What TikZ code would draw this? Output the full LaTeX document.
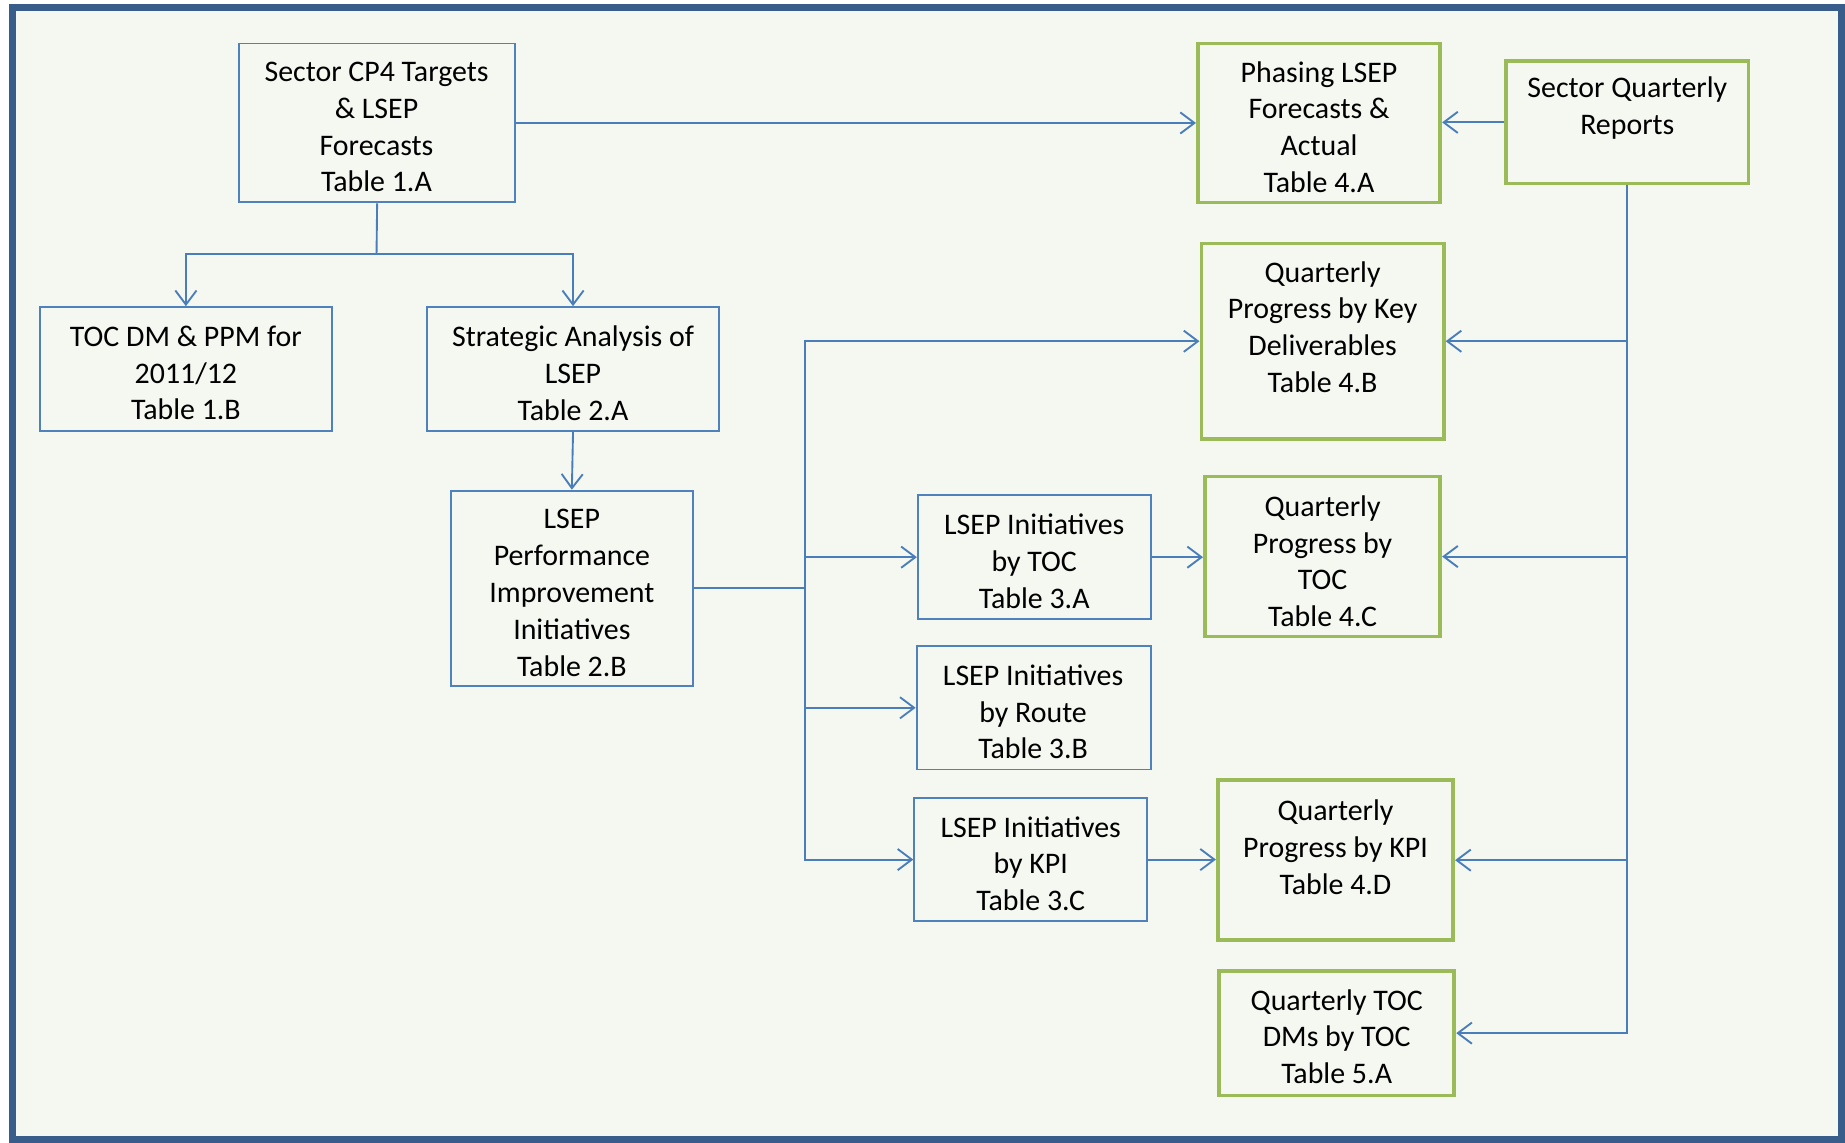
\documentclass[tikz,border=0pt]{standalone}
\usepackage{fontspec}
\setmainfont{Carlito}
\usetikzlibrary{arrows.meta,fit}
\definecolor{frameblue}{HTML}{385D8A}
\definecolor{bgfill}{HTML}{F5F8F1}
\definecolor{boxblue}{HTML}{4F81BD}
\definecolor{lineblue}{HTML}{4A7EBB}
\definecolor{boxgreen}{HTML}{9BBB59}
\tikzset{
  bluebox/.style={draw=boxblue, line width=0.8pt, inner sep=0pt},
  greenbox/.style={draw=boxgreen, line width=1.6pt, inner sep=0pt},
  lbl/.style={align=center, inner sep=0pt, font=\fontsize{12.7}{15.65}\selectfont},
  conn/.style={draw=lineblue, line width=0.8pt},
  arr/.style={conn, -{Straight Barb[length=6pt,width=9pt]}}
}
\begin{document}
\begin{tikzpicture}[x=0.5pt,y=-0.5pt]
\useasboundingbox (0,0) rectangle (1568,971);
\fill[white] (0,0) rectangle (1568,971);
\draw[frameblue, line width=3pt, fill=bgfill] (11,6.5) rectangle (1565,968);

% boxes
\node[bluebox, fit={(203,37) (438,172)}] (b1a) {};
\node[lbl] (b1at) at (320,108) {Sector CP4 Targets\\ \& LSEP\\ Forecasts\\ Table 1.A};
\node[bluebox, fit={(34,261) (282,366)}] (b1b) {};
\node[lbl] (b1bt) at (158,317) {TOC DM \& PPM for\\ 2011/12\\ Table 1.B};
\node[bluebox, fit={(363,261) (611,366)}] (b2a) {};
\node[lbl] (b2at) at (487,317) {Strategic Analysis of\\ LSEP\\ Table 2.A};
\node[bluebox, fit={(383,417) (589,583)}] (b2b) {};
\node[lbl] (b2bt) at (486,504) {LSEP\\ Performance\\ Improvement\\ Initiatives\\ Table 2.B};
\node[bluebox, fit={(780,421) (978,526)}] (b3a) {};
\node[lbl] (b3at) at (879,477) {LSEP Initiatives\\ by TOC\\ Table 3.A};
\node[bluebox, fit={(779,549) (978,654)}] (b3b) {};
\node[lbl] (b3bt) at (878,605) {LSEP Initiatives\\ by Route\\ Table 3.B};
\node[bluebox, fit={(777,678) (975,783)}] (b3c) {};
\node[lbl] (b3ct) at (876,734) {LSEP Initiatives\\ by KPI\\ Table 3.C};

\node[greenbox, fit={(1018,37) (1224,172)}] (b4a) {};
\node[lbl] (b4at) at (1121,108) {Phasing LSEP\\ Forecasts \&\\ Actual\\ Table 4.A};
\node[greenbox, fit={(1280,52) (1486,156)}] (bsq) {};
\node[lbl] (bsqt) at (1383,92) {Sector Quarterly\\ Reports};
\node[greenbox, fit={(1021,207) (1227,373)}] (b4b) {};
\node[lbl] (b4bt) at (1124,278) {Quarterly\\ Progress by Key\\ Deliverables\\ Table 4.B};
\node[greenbox, fit={(1024,405) (1224,541)}] (b4c) {};
\node[lbl] (b4ct) at (1124,477) {Quarterly\\ Progress by\\ TOC\\ Table 4.C};
\node[greenbox, fit={(1035,663) (1235,799)}] (b4d) {};
\node[lbl] (b4dt) at (1135,720) {Quarterly\\ Progress by KPI\\ Table 4.D};
\node[greenbox, fit={(1036,825) (1236,931)}] (b5a) {};
\node[lbl] (b5at) at (1136,881) {Quarterly TOC\\ DMs by TOC\\ Table 5.A};

% connectors
\coordinate (split1) at (320,216);
\draw[conn] (b1a.south) -- (split1);
\draw[arr] (split1) -| (b1b.north);
\draw[arr] (split1) -| (b2a.north);
\draw[arr] (b1a.east) -- (b4a.west);
\draw[arr] (bsq.west) -- (bsq.west -| b4a.east);
\draw[arr] (b2a.south) -- (b2b.north);

\coordinate (trunk) at (684,500);
\draw[conn] (b2b.east) -- (trunk);
\draw[arr] (trunk) |- (b4b.west);
\draw[arr] (trunk) |- (b3a.west);
\draw[arr] (trunk) |- (b3b.west);
\draw[arr] (trunk) |- (b3c.west);
\draw[arr] (b3a.east) -- (b3a.east -| b4c.west);
\draw[arr] (b3c.east) -- (b3c.east -| b4d.west);

\draw[arr] (bsq.south) |- (b4b.east);
\draw[arr] (bsq.south) |- (b4c.east);
\draw[arr] (bsq.south) |- (b4d.east);
\draw[arr] (bsq.south) |- (b5a.east);
\end{tikzpicture}
\end{document}
